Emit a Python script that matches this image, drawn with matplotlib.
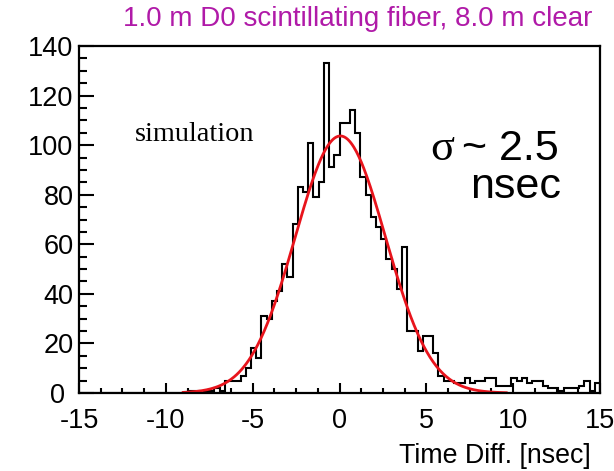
import numpy as np
import matplotlib
matplotlib.use("Agg")
import matplotlib.pyplot as plt
import matplotlib.transforms as mtransforms
from matplotlib.ticker import MultipleLocator

# ---- data ----
bin_lo, bin_hi, n_bins = -15.0, 15.0, 100
counts = [
    0, 0, 0, 0, 0, 0, 0, 0, 0, 0,
    0, 0, 0, 0, 0, 0, 0, 0, 0, 0,
    0, 1, 1, 0, 1, 1, 2, 1, 5, 5,
    5, 7, 10, 18, 14, 31, 30, 37, 41, 52,
    47, 68, 83, 81, 101, 79, 85, 133, 91, 96,
    109, 109, 114, 105, 87, 80, 71, 67, 62, 54,
    50, 42, 59, 25, 25, 17, 23, 23, 16, 7,
    5, 5, 4, 4, 6, 4, 5, 5, 6, 6,
    3, 3, 3, 6, 5, 6, 4, 5, 5, 3,
    2, 2, 1, 2, 2, 2, 3, 5, 1, 4,
]
fit_amp, fit_mean, fit_sigma = 103.7, 0.05, 2.6
fit_range = (-9.0, 9.6)

title = "1.0 m D0 scintillating fiber, 8.0 m clear"
xlabel = "Time Diff. [nsec]"
xticks = [-15, -10, -5, 0, 5, 10, 15]
yticks = [0, 20, 40, 60, 80, 100, 120, 140]

plt.rcParams['font.family'] = ['Liberation Sans', 'DejaVu Sans']
plt.rcParams['axes.unicode_minus'] = False

fig = plt.figure(figsize=(6.14, 4.71), dpi=100)
ax = fig.add_axes([79/614, 1-393/471, (600-79)/614, (393-46)/471])

edges = np.linspace(bin_lo, bin_hi, n_bins + 1)
ax.stairs(counts, edges, color='black', lw=1.5)

xf = np.linspace(fit_range[0], fit_range[1], 400)
yf = fit_amp * np.exp(-0.5 * ((xf - fit_mean) / fit_sigma) ** 2)
ax.plot(xf, yf, color='#e8141c', lw=2.0)

ax.set_xlim(bin_lo, bin_hi)
ax.set_ylim(0, 140)
ax.set_xticks(xticks)
ax.set_yticks(yticks)
ax.xaxis.set_minor_locator(MultipleLocator(1.25))
ax.yaxis.set_minor_locator(MultipleLocator(5))
ax.tick_params(axis='both', which='both', direction='in', top=False, right=False,
               labelsize=19.5, width=1.5, colors='black')
ax.tick_params(axis='x', which='major', length=7, pad=11)
ax.tick_params(axis='x', which='minor', length=3.5)
ax.tick_params(axis='y', which='major', length=11, pad=4)
ax.tick_params(axis='y', which='minor', length=5.5)
for s in ax.spines.values():
    s.set_linewidth(1.6)

# the "0" label on the y axis sits a little left of the others, as in the original
fig.canvas.draw()
for lab in ax.get_yticklabels():
    if lab.get_text() == '0':
        lab.set_transform(lab.get_transform() +
                          mtransforms.ScaledTranslation(-8/100, 0, fig.dpi_scale_trans))

fig.text(592/614, 1-26/471, title, color='#b01aa8', fontsize=20,
         ha='right', va='baseline')
fig.text(591/614, 1-463/471, xlabel, color='black', fontsize=19.3,
         ha='right', va='baseline')

ax.text(135/614, 1-141/471, "simulation", transform=fig.transFigure,
        family='Liberation Serif', fontsize=20.4, ha='left', va='baseline')
ax.text(430/614, 1-160/471, "σ", transform=fig.transFigure,
        family='Liberation Serif', fontsize=32, ha='left', va='baseline')
ax.text(462/614, 1-160/471, "~ 2.5", transform=fig.transFigure,
        fontsize=31, ha='left', va='baseline')
ax.text(470/614, 1-198/471, "nsec", transform=fig.transFigure,
        fontsize=31, ha='left', va='baseline')

fig.savefig("out.png", dpi=100)
